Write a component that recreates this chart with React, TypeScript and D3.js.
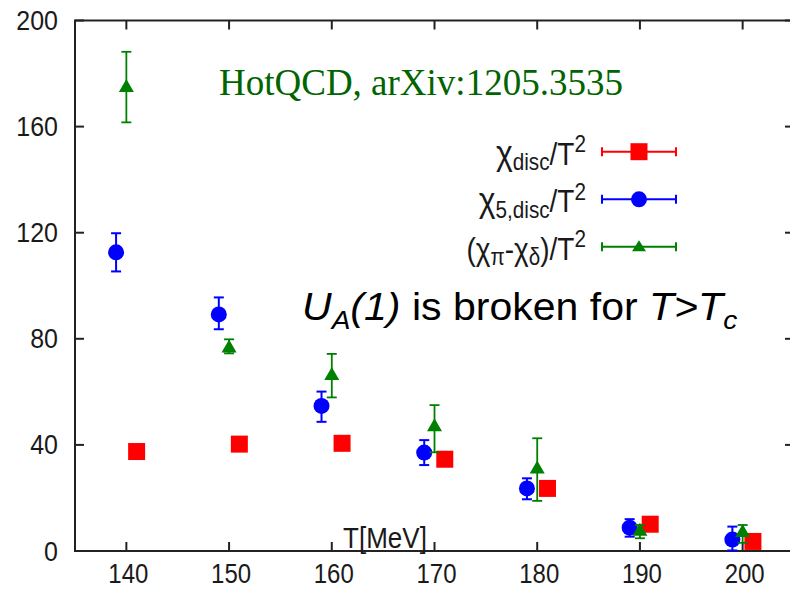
import React from "react";
import * as d3 from "d3";

// ---------- data ----------
const temps = [140, 150, 160, 170, 180, 190, 200];
const xTicks = [140, 150, 160, 170, 180, 190, 200];
const yTicks = [0, 40, 80, 120, 160, 200];

// chi_disc / T^2 (red squares, plotted at T+1)
const discVals = [37.5, 40.3, 40.6, 34.6, 23.6, 10.1, 3.6];

// chi_5,disc / T^2 (blue circles, plotted at T-1)
const disc5Vals = [112.6, 89.2, 54.7, 37.1, 23.6, 8.8, 4.3];
const disc5Lo = [105.4, 83.6, 48.7, 32.4, 19.5, 5.4, 0.2];
const disc5Hi = [119.8, 95.6, 60.1, 41.8, 27.4, 12.0, 9.2];

// (chi_pi - chi_delta) / T^2 (green triangles, plotted at T)
const pidVals = [175.0, 76.8, 66.4, 47.1, 31.2, 7.7, 7.2];
const pidLo = [161.6, 74.5, 57.9, 37.2, 18.9, 4.8, 3.1];
const pidHi = [188.2, 79.8, 74.3, 55.0, 42.5, 9.8, 9.8];

const RED = "#ff0000";
const BLUE = "#0000ff";
const GREEN = "#008000";
const TEXTGREEN = "#006400";
const AXIS = "#222222";
const SANS = "'Liberation Sans', Arial, Helvetica, sans-serif";
const SERIF = "'Liberation Serif', 'Times New Roman', serif";
const VS = 1.12; // vertical stretch of the chart's sans texts

const W = 790;
const H = 589;

const x = d3.scaleLinear().domain([135, 205]).range([75, 794]);
const y = d3.scaleLinear().domain([0, 200]).range([551, 20.5]);

function triPath(cx: number, cy: number, w = 14, h = 12) {
  const p = d3.path();
  p.moveTo(cx, cy - h * 0.6);
  p.lineTo(cx + w / 2, cy + h * 0.4);
  p.lineTo(cx - w / 2, cy + h * 0.4);
  p.closePath();
  return p.toString();
}

function ErrBar({ cx, lo, hi, color, cap = 10, sw = 2 }: { cx: number; lo: number; hi: number; color: string; cap?: number; sw?: number }) {
  return (
    <g stroke={color} strokeWidth={sw} fill="none">
      <line x1={cx} x2={cx} y1={lo} y2={hi} />
      <line x1={cx - cap / 2} x2={cx + cap / 2} y1={lo} y2={lo} />
      <line x1={cx - cap / 2} x2={cx + cap / 2} y1={hi} y2={hi} />
    </g>
  );
}

function STxt({ x: tx, y: ty, size, anchor = "start", children, fill = "#1a1a1a", sx = 1, sy = VS }: any) {
  return (
    <text
      transform={`translate(${tx},${ty}) scale(${sx},${sy})`}
      fontFamily={SANS}
      fontSize={size}
      textAnchor={anchor}
      fill={fill}
    >
      {children}
    </text>
  );
}

function LegendLine({ cy, color }: { cy: number; color: string }) {
  const x1 = 602;
  const x2 = 676;
  return (
    <g stroke={color} strokeWidth={2}>
      <line x1={x1} x2={x2} y1={cy} y2={cy} />
      <line x1={x1} x2={x1} y1={cy - 4.5} y2={cy + 4.5} />
      <line x1={x2} x2={x2} y1={cy - 4.5} y2={cy + 4.5} />
    </g>
  );
}

export default function App() {
  const legRows = [151.7, 199.3, 246.8];
  const legMx = 639;
  const legTx = 586;
  const legSize = 28;
  const sub = legSize * 0.74;
  return (
    <svg
      width={W}
      height={H}
      style={{ position: "fixed", left: 0, top: 0, background: "#fff" }}
    >
      <rect x={0} y={0} width={W} height={H} fill="#fff" />

      {/* ticks */}
      <g stroke={AXIS} strokeWidth={2}>
        {xTicks.map((t) => (
          <g key={"xt" + t}>
            <line x1={x(t)} x2={x(t)} y1={y(0)} y2={y(0) - 9} />
            <line x1={x(t)} x2={x(t)} y1={y(200)} y2={y(200) + 9} />
          </g>
        ))}
        {yTicks.map((t) => (
          <g key={"yt" + t}>
            <line x1={x(135)} x2={x(135) + 9} y1={y(t)} y2={y(t)} />
            <line x1={x(205)} x2={x(205) - 9} y1={y(t)} y2={y(t)} />
          </g>
        ))}
      </g>

      {/* frame */}
      <rect
        x={x(135)}
        y={y(200)}
        width={x(205) - x(135)}
        height={y(0) - y(200)}
        fill="none"
        stroke={AXIS}
        strokeWidth={2}
      />

      {/* tick labels */}
      {xTicks.map((t) => (
        <STxt key={"xl" + t} x={x(t) + 2} y={583} size={24} anchor="middle">
          {t}
        </STxt>
      ))}
      {yTicks.map((t) => (
        <STxt key={"yl" + t} x={58} y={y(t) + 9.5} size={25} anchor="end">
          {t}
        </STxt>
      ))}

      {/* axis title inside plot */}
      <STxt x={385} y={548} size={26} anchor="middle">
        T[MeV]
      </STxt>

      {/* red squares */}
      {temps.map((t, i) => (
        <rect
          key={"r" + t}
          x={x(t + 1) - 8.5}
          y={y(discVals[i]) - 8.5}
          width={17}
          height={17}
          fill={RED}
        />
      ))}

      {/* blue circles */}
      {temps.map((t, i) => (
        <g key={"b" + t}>
          <ErrBar cx={x(t - 1)} lo={y(disc5Lo[i])} hi={y(disc5Hi[i])} color={BLUE} />
          <circle cx={x(t - 1)} cy={y(disc5Vals[i])} r={8} fill={BLUE} />
        </g>
      ))}

      {/* green triangles */}
      {temps.map((t, i) => (
        <g key={"g" + t}>
          <ErrBar cx={x(t)} lo={y(pidLo[i])} hi={y(pidHi[i])} color={GREEN} sw={1.8} />
          <path d={triPath(x(t), y(pidVals[i]), 15, 13)} fill={GREEN} />
        </g>
      ))}

      {/* legend */}
      <LegendLine cy={legRows[0]} color={RED} />
      <rect x={legMx - 8.5} y={legRows[0] - 8.5} width={17} height={17} fill={RED} />
      <LegendLine cy={legRows[1]} color={BLUE} />
      <circle cx={legMx} cy={legRows[1]} r={8} fill={BLUE} />
      <LegendLine cy={legRows[2]} color={GREEN} />
      <path d={triPath(legMx, legRows[2], 14, 11)} fill={GREEN} />

      <STxt x={legTx} y={legRows[0] + 13} size={legSize} anchor="end">
        <tspan fontSize={32}>χ</tspan>
        <tspan dy={5} fontSize={sub}>disc</tspan>
        <tspan dy={-5}>/T</tspan>
        <tspan dy={-11} fontSize={sub}>2</tspan>
      </STxt>
      <STxt x={legTx} y={legRows[1] + 13} size={legSize} anchor="end">
        <tspan fontSize={32}>χ</tspan>
        <tspan dy={5} fontSize={sub}>5,disc</tspan>
        <tspan dy={-5}>/T</tspan>
        <tspan dy={-11} fontSize={sub}>2</tspan>
      </STxt>
      <STxt x={legTx} y={legRows[2] + 13} size={legSize} anchor="end">
        <tspan>(χ</tspan>
        <tspan dy={5} fontSize={sub}>π</tspan>
        <tspan dy={-5}>-χ</tspan>
        <tspan dy={5} fontSize={sub}>δ</tspan>
        <tspan dy={-5}>)/T</tspan>
        <tspan dy={-11} fontSize={sub}>2</tspan>
      </STxt>

      {/* annotations */}
      <text x={219} y={95} fontFamily={SERIF} fontSize={37} fill={TEXTGREEN}>
        HotQCD, arXiv:1205.3535
      </text>

      <STxt x={302} y={320} size={38} fill="#000" sx={1.08} sy={1}>
        <tspan fontStyle="italic">U</tspan>
        <tspan fontStyle="italic" dy={9} fontSize={26}>A</tspan>
        <tspan fontStyle="italic" dy={-9}>(1)</tspan>
        <tspan> is broken for </tspan>
        <tspan fontStyle="italic">T&gt;T</tspan>
        <tspan fontStyle="italic" dy={9} fontSize={26}>c</tspan>
      </STxt>
    </svg>
  );
}
